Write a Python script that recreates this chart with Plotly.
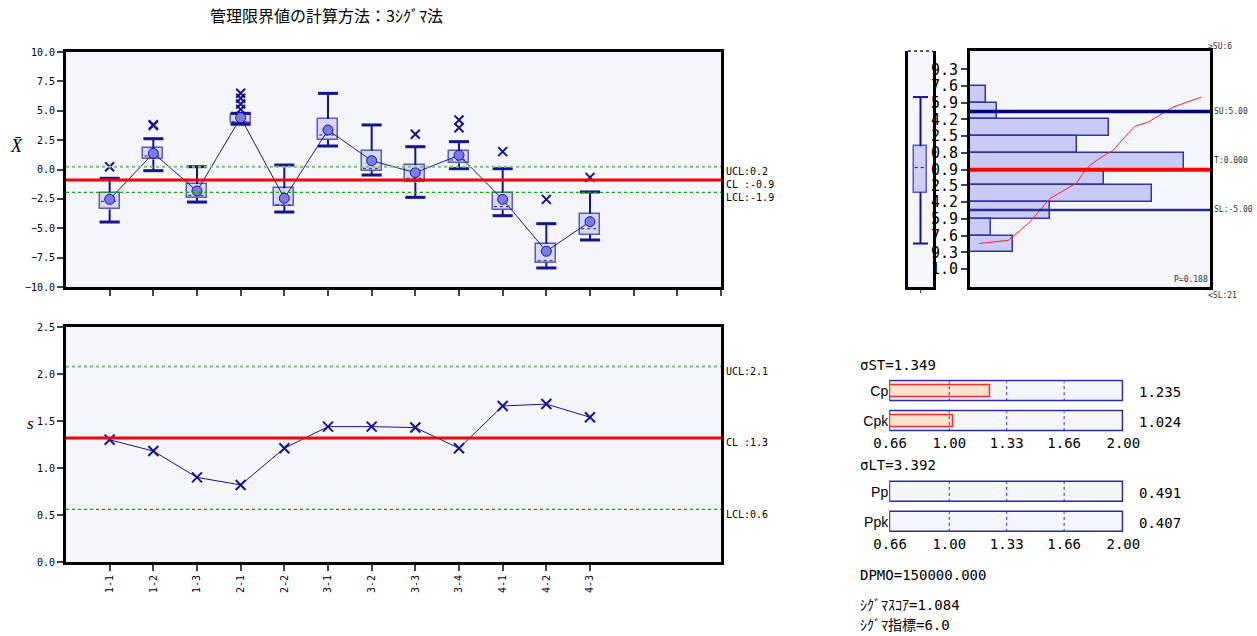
import plotly.graph_objects as go

W, H = 1257, 636

# ---------------- data ----------------
groups = ["1-1", "1-2", "1-3", "2-1", "2-2", "3-1", "3-2", "3-3", "3-4", "4-1", "4-2", "4-3"]
positions = list(range(1, 13))
xbar_mean = [-2.54, 1.38, -1.83, 4.41, -2.45, 3.36, 0.75, -0.27, 1.21, -2.54, -6.96, -4.44]
box_q3 = [-2.03, 1.80, -1.23, 4.64, -1.60, 4.30, 1.60, 0.38, 1.60, -1.97, -6.34, -3.76]
box_median = [-2.71, 1.15, -2.20, 4.05, -3.02, 2.94, 0.10, -0.75, 0.81, -3.16, -7.76, -5.04]
box_q1 = [-3.39, 0.87, -2.43, 3.93, -3.11, 2.51, -0.10, -1.09, 0.53, -3.45, -7.93, -5.55]
whisker_hi = [-0.75, 2.62, 0.24, 4.78, 0.38, 6.48, 3.79, 1.94, 2.37, 0.07, -4.61, -1.91]
whisker_lo = [-4.47, -0.10, -2.77, 3.85, -3.62, 2.00, -0.47, -2.37, 0.07, -3.93, -8.38, -6.00]
outlier_pos = [1, 2, 2, 4, 4, 4, 4, 8, 9, 9, 10, 11, 12]
outlier_val = [0.24, 3.74, 3.82, 6.49, 6.06, 5.57, 5.12, 3.00, 4.21, 3.56, 1.52, -2.54, -0.67]
xbar_ucl, xbar_cl, xbar_lcl = 0.24, -0.89, -1.94

s_values = [1.30, 1.18, 0.90, 0.82, 1.21, 1.44, 1.44, 1.43, 1.21, 1.66, 1.68, 1.54]
s_ucl, s_cl, s_lcl = 2.08, 1.32, 0.56

hist_edges = [7.6, 5.9, 4.2, 2.5, 0.8, -0.9, -2.5, -4.2, -5.9, -7.6, -9.3]
hist_counts = [3, 5, 26, 20, 40, 25, 34, 15, 4, 8]
hist_tickvals = [9.3, 7.6, 5.9, 4.2, 2.5, 0.8, -0.9, -2.5, -4.2, -5.9, -7.6, -9.3, -11.0]
hist_ticktext = ["9.3", "7.6", "5.9", "4.2", "2.5", "0.8", "0.9", "2.5", "4.2", "5.9", "7.6", "9.3", "1.0"]
spec_upper, spec_lower, target, overall_mean = 5.0, -5.0, 0.0, -0.9
count_above_su, count_below_sl, normality_p = 6, 21, 0.188
cum_frac = [0.039, 0.16, 0.25, 0.333, 0.445, 0.465, 0.5, 0.549, 0.597, 0.632, 0.688, 0.743, 0.847, 0.965]
cum_value = [-8.41, -8.08, -6.21, -3.84, -2.25, -1.47, -0.46, 0.39, 1.07, 2.08, 3.51, 3.94, 5.47, 6.48]
dist_hi, dist_q3, dist_med, dist_q1, dist_lo = 6.48, 1.47, -0.69, -3.23, -8.41

cap_ticks = [0.66, 1.00, 1.33, 1.66, 2.00]
cap_grid = [1.00, 1.33, 1.66]
st_labels = ["Cp", "Cpk"]
st_values = [1.235, 1.024]
lt_labels = ["Pp", "Ppk"]
lt_values = [0.491, 0.407]
sigma_st, sigma_lt = 1.349, 3.392
dpmo, sigma_score, sigma_index = 150000.0, 1.084, 6.0

title_text = "管理限界値の計算方法：3ｼｸﾞﾏ法"

# ---------------- styling ----------------
NAVY = "#14148c"
BG = "#f5f5fc"
MONO = "DejaVu Sans Mono, Noto Sans CJK JP"
CJK = "Noto Sans CJK JP"


def dx(a, b):
    return [a / W, b / W]


def dy(top, bottom):
    return [1 - bottom / H, 1 - top / H]


fig = go.Figure()

# ---------------- X-bar chart ----------------
wx, wy, cx, cy, mx, my = [], [], [], [], [], []
half = 0.23
for p, lo, q1, q3, hi, md in zip(positions, whisker_lo, box_q1, box_q3, whisker_hi, box_median):
    wx += [p, p, None, p, p, None]
    wy += [lo, q1, None, q3, hi, None]
    cx += [p - half, p + half, None, p - half, p + half, None]
    cy += [hi, hi, None, lo, lo, None]
    mx += [p - half + 0.03, p + half - 0.03, None]
    my += [md, md, None]

fig.add_trace(go.Bar(x=positions, y=[a - b for a, b in zip(box_q3, box_q1)], base=box_q1,
                     width=0.46, marker=dict(color="rgba(205,205,242,0.75)",
                                             line=dict(color="#5a5ab8", width=1.5)),
                     xaxis="x", yaxis="y", showlegend=False, hoverinfo="skip"))
fig.add_trace(go.Scatter(x=wx, y=wy, mode="lines", line=dict(color=NAVY, width=2),
                         xaxis="x", yaxis="y", showlegend=False, hoverinfo="skip"))
fig.add_trace(go.Scatter(x=cx, y=cy, mode="lines", line=dict(color=NAVY, width=3),
                         xaxis="x", yaxis="y", showlegend=False, hoverinfo="skip"))
fig.add_trace(go.Scatter(x=mx, y=my, mode="lines", line=dict(color=NAVY, width=1, dash="dot"),
                         xaxis="x", yaxis="y", showlegend=False, hoverinfo="skip"))
fig.add_trace(go.Scatter(x=positions, y=xbar_mean, mode="lines+markers",
                         line=dict(color=NAVY, width=1),
                         marker=dict(size=10, color="#7a7ae8", line=dict(color=NAVY, width=1)),
                         xaxis="x", yaxis="y", showlegend=False))
fig.add_trace(go.Scatter(x=outlier_pos, y=outlier_val, mode="markers",
                         marker=dict(symbol="x-thin", size=9, line=dict(color=NAVY, width=2)),
                         xaxis="x", yaxis="y", showlegend=False))

# ---------------- s chart ----------------
fig.add_trace(go.Scatter(x=positions, y=s_values, mode="lines+markers",
                         line=dict(color=NAVY, width=1),
                         marker=dict(symbol="x-thin", size=10, line=dict(color=NAVY, width=2)),
                         xaxis="x2", yaxis="y2", showlegend=False))

# ---------------- distribution box (left of histogram) ----------------
fig.add_trace(go.Bar(x=[0.5], y=[dist_q3 - dist_q1], base=[dist_q1], width=0.52,
                     marker=dict(color="#cfcff4", line=dict(color="#5a5ab8", width=1.5)),
                     xaxis="x3", yaxis="y3", showlegend=False, hoverinfo="skip"))
fig.add_trace(go.Scatter(x=[0.5, 0.5, None, 0.5, 0.5], y=[dist_lo, dist_q1, None, dist_q3, dist_hi],
                         mode="lines", line=dict(color=NAVY, width=2),
                         xaxis="x3", yaxis="y3", showlegend=False, hoverinfo="skip"))
fig.add_trace(go.Scatter(x=[0.2, 0.8, None, 0.2, 0.8], y=[dist_hi, dist_hi, None, dist_lo, dist_lo],
                         mode="lines", line=dict(color=NAVY, width=2),
                         xaxis="x3", yaxis="y3", showlegend=False, hoverinfo="skip"))
fig.add_trace(go.Scatter(x=[0.27, 0.73], y=[dist_med, dist_med],
                         mode="lines", line=dict(color=NAVY, width=1, dash="dot"),
                         xaxis="x3", yaxis="y3", showlegend=False, hoverinfo="skip"))

# ---------------- histogram ----------------
centers = [(a + b) / 2 for a, b in zip(hist_edges[:-1], hist_edges[1:])]
heights = [a - b for a, b in zip(hist_edges[:-1], hist_edges[1:])]
fig.add_trace(go.Bar(x=hist_counts, y=centers, width=heights, orientation="h",
                     marker=dict(color="#cacaf7", line=dict(color="#3434a0", width=1.5)),
                     xaxis="x4", yaxis="y4", showlegend=False))
fig.add_trace(go.Scatter(x=cum_frac, y=cum_value, mode="lines", line=dict(color="#ff2020", width=1),
                         xaxis="x5", yaxis="y4", showlegend=False))

# ---------------- capability bars ----------------
span = cap_ticks[-1] - cap_ticks[0]
for xa, ya, labels, vals in (("x6", "y6", st_labels, st_values), ("x7", "y7", lt_labels, lt_values)):
    rows = [len(labels) - 1 - i for i in range(len(labels))]
    fig.add_trace(go.Bar(x=[span] * len(rows), y=rows, base=cap_ticks[0], width=0.69, orientation="h",
                         marker=dict(color=BG, line=dict(color="#2c2c9c", width=1.5)),
                         xaxis=xa, yaxis=ya, showlegend=False, hoverinfo="skip"))
    vr = [r for r, v in zip(rows, vals) if v > cap_ticks[0]]
    vv = [v - cap_ticks[0] for v in vals if v > cap_ticks[0]]
    if vv:
        fig.add_trace(go.Bar(x=vv, y=vr, base=cap_ticks[0], width=0.42, orientation="h",
                             marker=dict(color="#fde3cc", line=dict(color="#ff2a2a", width=1.5)),
                             xaxis=xa, yaxis=ya, showlegend=False))

# ---------------- shapes ----------------
shapes = []
for xa, ya in (("x", "y"), ("x2", "y2"), ("x3", "y3"), ("x4", "y4")):
    shapes.append(dict(type="rect", xref=f"{xa} domain", yref=f"{ya} domain", x0=0, x1=1, y0=0, y1=1,
                       fillcolor=BG, line=dict(width=0), layer="below"))
for xa, ya, ucl, cl, lcl in (("x", "y", xbar_ucl, xbar_cl, xbar_lcl), ("x2", "y2", s_ucl, s_cl, s_lcl)):
    shapes.append(dict(type="line", xref=f"{xa} domain", yref=ya, x0=0, x1=1, y0=ucl, y1=ucl,
                       line=dict(color="#76c476", width=2, dash="dot")))
    shapes.append(dict(type="line", xref=f"{xa} domain", yref=ya, x0=0, x1=1, y0=lcl, y1=lcl,
                       line=dict(color="#16a016", width=1.2, dash="dot")))
    shapes.append(dict(type="line", xref=f"{xa} domain", yref=ya, x0=0, x1=1, y0=cl, y1=cl,
                       line=dict(color="#ff0000", width=3)))
shapes.append(dict(type="line", xref="x4 domain", yref="y4", x0=0, x1=1, y0=spec_upper, y1=spec_upper,
                   line=dict(color="#000080", width=3.5)))
shapes.append(dict(type="line", xref="x4 domain", yref="y4", x0=0, x1=1, y0=spec_lower, y1=spec_lower,
                   line=dict(color="#2a2a8e", width=2.5)))
shapes.append(dict(type="line", xref="x4 domain", yref="y4", x0=0, x1=1, y0=overall_mean, y1=overall_mean,
                   line=dict(color="#ff0000", width=4)))
shapes.append(dict(type="line", xref="x3 domain", yref="y3 domain", x0=0, x1=1, y0=1, y1=1,
                   line=dict(color="#222222", width=1.5, dash="dot")))
for xa, ya, labels in (("x6", "y6", st_labels), ("x7", "y7", lt_labels)):
    for r in range(len(labels)):
        for g in cap_grid:
            shapes.append(dict(type="line", xref=xa, yref=ya, x0=g, x1=g, y0=r - 0.33, y1=r + 0.33,
                               line=dict(color="#2a2acc", width=1, dash="dot")))

# ---------------- annotations ----------------
ann = []
ann.append(dict(text=title_text, x=326 / W, y=1 - 15 / H, xref="paper", yref="paper", showarrow=False,
                xanchor="center", yanchor="middle", font=dict(family=CJK, size=16, color="black")))
ann.append(dict(text="<i>X̄</i>", x=16 / W, y=1 - 146 / H, xref="paper", yref="paper", showarrow=False,
                xanchor="center", yanchor="middle", font=dict(family="Liberation Serif", size=18, color="black")))
ann.append(dict(text="<i>s</i>", x=30 / W, y=1 - 423 / H, xref="paper", yref="paper", showarrow=False,
                xanchor="center", yanchor="middle", font=dict(family="Liberation Serif", size=17, color="black")))
for xa, ya, ucl, cl, lcl in (("x", "y", xbar_ucl, xbar_cl, xbar_lcl), ("x2", "y2", s_ucl, s_cl, s_lcl)):
    for name, v in (("UCL:", ucl), ("CL :", cl), ("LCL:", lcl)):
        ann.append(dict(text=f"{name}{v:.1f}", xref=f"{xa} domain", x=1, xanchor="left", xshift=3,
                        yref=ya, y=v, yshift=-5, showarrow=False,
                        font=dict(family=MONO, size=10, color="black")))
small = dict(family=MONO, size=8, color="#333333")
ann.append(dict(text=f">SU:{count_above_su}", xref="x4 domain", x=1, xanchor="left", xshift=-4,
                yref="y4 domain", y=1, yshift=11, showarrow=False, font=small))
ann.append(dict(text=f"<SL:{count_below_sl}", xref="x4 domain", x=1, xanchor="left", xshift=-4,
                yref="y4 domain", y=0, yshift=-15, showarrow=False, font=small))
for label, v, yv in (("SU:", f"{spec_upper:.2f}", spec_upper), ("T:", f"{target:.3f}", target),
                     ("SL:", f"{spec_lower:.2f}", spec_lower)):
    ann.append(dict(text=f"{label}{v}", xref="x4 domain", x=1, xanchor="left", xshift=2,
                    yref="y4", y=yv, showarrow=False, font=small))
ann.append(dict(text=f"P={normality_p:.3f}", xref="x4 domain", x=1, xanchor="right", xshift=0,
                yref="y4 domain", y=0, yanchor="bottom", yshift=1, showarrow=False, font=small))

big = dict(family=MONO, size=14, color="black")
for xa, ya, labels, vals in (("x6", "y6", st_labels, st_values), ("x7", "y7", lt_labels, lt_values)):
    for i, v in enumerate(vals):
        r = len(vals) - 1 - i
        ann.append(dict(text=f"{v:.3f}", xref=f"{xa} domain", x=1, xanchor="left", xshift=13,
                        yref=ya, y=r, yshift=-1, showarrow=False, font=big))
left_text = [(f"σST={sigma_st:.3f}", 365), (f"σLT={sigma_lt:.3f}", 465),
             (f"DPMO={dpmo:.3f}", 575), (f"ｼｸﾞﾏｽｺｱ={sigma_score:.3f}", 605),
             (f"ｼｸﾞﾏ指標={sigma_index:.1f}", 625)]
for t, ypx in left_text:
    ann.append(dict(text=t, x=858 / W, y=1 - ypx / H, xref="paper", yref="paper", xanchor="left",
                    yanchor="middle", showarrow=False, font=big))

# ---------------- axes ----------------
tickfont = dict(family=MONO, size=10, color="black")
frame = dict(showline=True, linecolor="black", linewidth=3, mirror=True, showgrid=False, zeroline=False,
             automargin=False)
plain = dict(showgrid=False, zeroline=False, automargin=False)

layout = dict(
    width=W, height=H, margin=dict(l=0, r=0, t=0, b=0, pad=0), autosize=False,
    paper_bgcolor="white", plot_bgcolor="white", barmode="overlay", bargap=0,
    showlegend=False, shapes=shapes, annotations=ann,
    xaxis=dict(domain=dx(66, 721), range=[0, 15], tickvals=list(range(1, 16)), showticklabels=False,
               ticks="outside", ticklen=6, tickwidth=2, anchor="y", **frame),
    yaxis=dict(domain=dy(52, 287), range=[-10, 10], dtick=2.5, tickformat=".1f", ticks="outside",
               ticklen=6, tickwidth=1.5, tickfont=tickfont, anchor="x", **frame),
    xaxis2=dict(domain=dx(66, 721), range=[0, 15], tickvals=positions, ticktext=groups, tickangle=-90,
                ticks="outside", ticklen=6, tickwidth=2, tickfont=dict(family=MONO, size=10, color="black"),
                anchor="y2", **frame),
    yaxis2=dict(domain=dy(327, 562), range=[0, 2.5], dtick=0.5, tickformat=".1f", ticks="outside",
                ticklen=6, tickwidth=1.5, tickfont=tickfont, anchor="x2", **frame),
    xaxis3=dict(domain=dx(908, 933), range=[0, 1], showline=True, linecolor="black", linewidth=3,
                tickvals=[0.5], ticks="outside", ticklen=3, showticklabels=False, anchor="y3", **plain),
    yaxis3=dict(domain=dy(51, 287), range=[-12.83, 11.16], showline=True, linecolor="black", linewidth=3,
                mirror=True, showticklabels=False, ticks="", anchor="x3", **plain),
    xaxis4=dict(domain=dx(970, 1210), range=[0, 44.9], showticklabels=False, ticks="", anchor="y4", **frame),
    yaxis4=dict(domain=dy(51, 287), range=[-12.83, 11.16], tickvals=hist_tickvals, ticktext=hist_ticktext,
                ticks="outside", ticklen=6, tickwidth=2, tickfont=dict(family=MONO, size=15, color="black"),
                anchor="x4", **frame),
    xaxis5=dict(domain=dx(970, 1210), range=[0, 1], overlaying="x4", visible=False, anchor="y4", **plain),
    xaxis6=dict(domain=dx(889.2, 1124.2), range=[0.655, 2.005], tickvals=cap_ticks,
                ticktext=[f"{v:.2f}" for v in cap_ticks], ticks="", tickfont=big, anchor="y6", **plain),
    yaxis6=dict(domain=dy(379.3, 433.3), range=[-0.4, 1.4], tickvals=[1, 0], ticktext=st_labels, ticks="",
                tickfont=dict(family="Liberation Sans", size=14, color="black"), anchor="x6", **plain),
    xaxis7=dict(domain=dx(889.2, 1124.2), range=[0.655, 2.005], tickvals=cap_ticks,
                ticktext=[f"{v:.2f}" for v in cap_ticks], ticks="", tickfont=big, anchor="y7", **plain),
    yaxis7=dict(domain=dy(480, 534), range=[-0.4, 1.4], tickvals=[1, 0], ticktext=lt_labels, ticks="",
                tickfont=dict(family="Liberation Sans", size=14, color="black"), anchor="x7", **plain),
)
fig.update_layout(**layout)

fig.write_html("out.html", config={"displayModeBar": False},
               post_script="document.body.style.margin='0';")
